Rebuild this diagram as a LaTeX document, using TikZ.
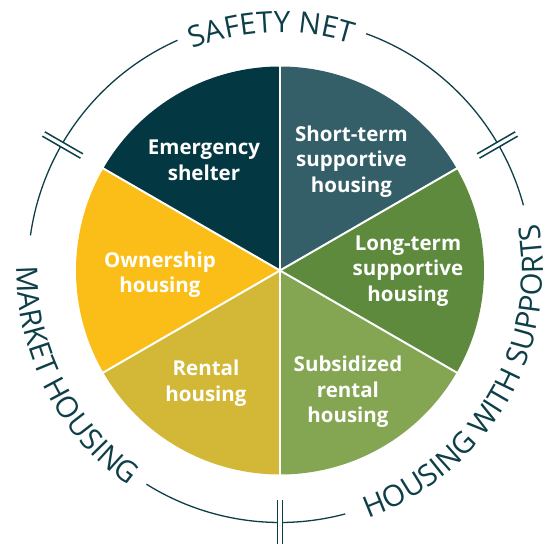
\documentclass[tikz,border=0pt]{standalone}
\usepackage{fontspec}
\setmainfont{Open Sans}
\usetikzlibrary{decorations.text}

\definecolor{ringteal}{HTML}{0E3F48}
\definecolor{shelterc}{HTML}{033842}
\definecolor{shorttermc}{HTML}{355F68}
\definecolor{longtermc}{HTML}{5D8A3C}
\definecolor{subsidizedc}{HTML}{84A552}
\definecolor{rentalc}{HTML}{D3B837}
\definecolor{ownershipc}{HTML}{FBBE18}

\newcommand{\ringfont}{\fontsize{29.5}{30}\selectfont}
\newcommand{\piecefont}{\fontsize{20.5}{25.5}\selectfont\bfseries}

\begin{document}
\begin{tikzpicture}[
        x=1pt, y=1pt,
        divider/.style={draw=white, line width=2pt},
        ring/.style={draw=ringteal, line width=1.3pt},
        tick/.style={draw=ringteal, line width=1.5pt},
        ringtext/.style={decorate, decoration={text along path, text align=center, text color=ringteal, text={|\ringfont|#1}}},
        piece/.style={text=white, font=\piecefont, align=center, inner sep=0pt}
    ]

    \useasboundingbox (-280,-273.5) rectangle (270,270.5);

    % Pie slices
    \fill[shorttermc] (0,0) -- (30:204) arc[start angle=30, end angle=90, radius=204] -- cycle;
    \fill[shelterc] (0,0) -- (90:204) arc[start angle=90, end angle=150, radius=204] -- cycle;
    \fill[ownershipc] (0,0) -- (150:204) arc[start angle=150, end angle=210, radius=204] -- cycle;
    \fill[rentalc] (0,0) -- (210:204) arc[start angle=210, end angle=270, radius=204] -- cycle;
    \fill[subsidizedc] (0,0) -- (270:204) arc[start angle=270, end angle=330, radius=204] -- cycle;
    \fill[longtermc] (0,0) -- (-30:204) arc[start angle=-30, end angle=30, radius=204] -- cycle;

    % White lines between slices
    \draw[divider] (0,0) -- (30:205);
    \draw[divider] (0,0) -- (90:205);
    \draw[divider] (0,0) -- (150:205);
    \draw[divider] (0,0) -- (210:205);
    \draw[divider] (0,0) -- (270:205);
    \draw[divider] (0,0) -- (330:205);

    % Slice texts
    \node[piece] (shelter) at (-76,110) {Emergency\\shelter};
    \node[piece] (shortterm) at (71.5,109) {Short-term\\supportive\\housing};
    \node[piece] (longterm) at (128,-0.5) {Long-term\\supportive\\housing};
    \node[piece] (ownership) at (-120,-4) {Ownership\\housing};
    \node[piece] (rental) at (-74,-112.5) {Rental\\housing};
    \node[piece] (subsidized) at (68,-121.5) {Subsidized\\rental\\housing};

    % Outer ring, broken at the ticks
    \draw[ring] (15:252) arc[start angle=15, end angle=29.4, radius=252];
    \draw[ring] (30.6:252) arc[start angle=30.6, end angle=70, radius=252];
    \draw[ring] (114:252) arc[start angle=114, end angle=149.4, radius=252];
    \draw[ring] (150.6:252) arc[start angle=150.6, end angle=172, radius=252];
    \draw[ring] (238:252) arc[start angle=238, end angle=269.4, radius=252];
    \draw[ring] (270.6:252) arc[start angle=270.6, end angle=285, radius=252];

    % Double ticks
    \begin{scope}[rotate=30]
        \draw[tick] (229,-2.5) -- (273,-2.5);
        \draw[tick] (229,2.5) -- (273,2.5);
    \end{scope}
    \begin{scope}[rotate=150]
        \draw[tick] (229,-2.5) -- (273,-2.5);
        \draw[tick] (229,2.5) -- (273,2.5);
    \end{scope}
    \begin{scope}[rotate=270]
        \draw[tick] (229,-2.5) -- (273,-2.5);
        \draw[tick] (229,2.5) -- (273,2.5);
    \end{scope}

    % Ring texts
    \path[ringtext=SAFETY NET] (127:238) arc[start angle=127, end angle=57, radius=238];
    \path[ringtext=HOUSING WITH SUPPORTS] (-95:263) arc[start angle=-95, end angle=35, radius=263];
    \path[ringtext=MARKET HOUSING] (162:263) arc[start angle=162, end angle=252, radius=263];

\end{tikzpicture}
\end{document}
